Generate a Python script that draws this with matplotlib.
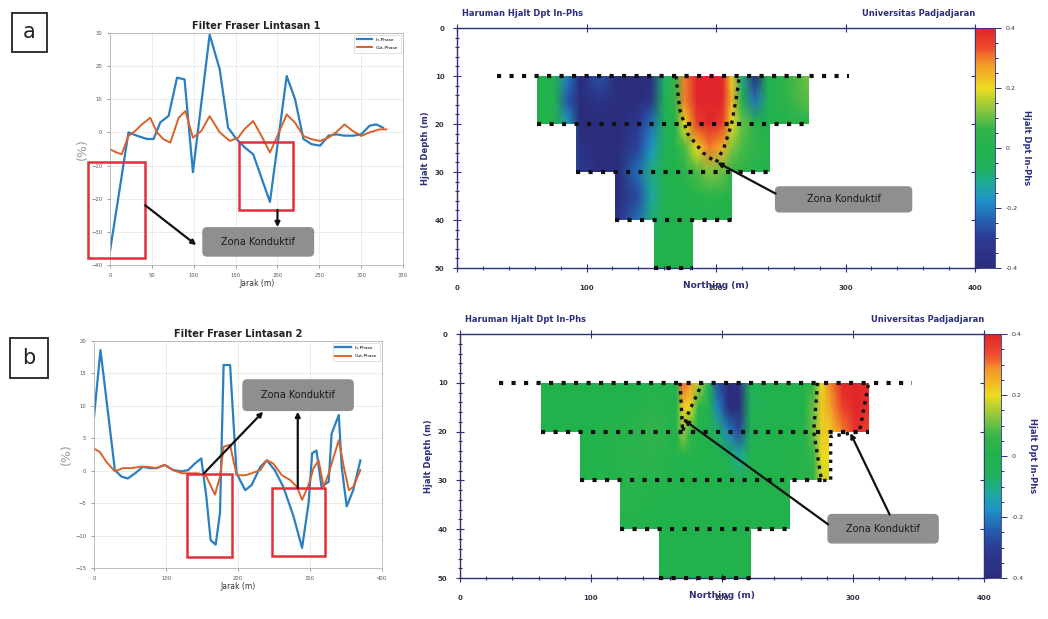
import numpy as np
import matplotlib
matplotlib.use('Agg')
import matplotlib.pyplot as plt
from matplotlib.colors import LinearSegmentedColormap
from matplotlib.patches import Rectangle, FancyBboxPatch, Polygon
from matplotlib.ticker import MultipleLocator

# --- data: Filter Fraser lintasan 1 ---
fr1_x_in = [0, 22, 32, 44, 52, 60, 70, 80, 89, 99, 119, 131, 141, 151, 161, 171, 191, 211, 221,
            231, 241, 251, 261, 270, 280, 290, 300, 310, 318, 326]
fr1_in = [-35.8, 0.0, -1.0, -2.0, -2.0, 3.0, 5.0, 16.5, 16.0, -12.0, 29.5, 19.0, 1.4, -2.0, -4.6,
          -6.6, -21.0, 17.0, 10.0, -2.0, -3.6, -4.0, -1.0, -0.6, -1.0, -1.0, -0.6, 2.0, 2.4, 1.4]
fr1_x_out = [0, 8, 14, 22, 30, 38, 48, 56, 64, 72, 82, 90, 99, 109, 119, 131, 143, 153, 161, 171,
             181, 191, 199, 211, 221, 231, 241, 251, 261, 270, 280, 290, 300, 310, 322, 330]
fr1_out = [-5.1, -6.1, -6.6, -1.1, 0.4, 2.4, 4.4, 0.0, -2.1, -3.1, 4.4, 6.4, -1.6, 0.4, 4.9, 0.0,
           -2.6, -1.6, 1.1, 3.4, -1.1, -6.1, -1.6, 5.4, 2.9, -1.1, -2.1, -2.6, -1.6, 0.0, 2.4, 0.4,
           -1.1, 0.0, 0.9, 0.9]

# --- data: Filter Fraser lintasan 2 ---
fr2_x_in = [0, 9, 29, 38, 47, 57, 68, 77, 87, 98, 110, 122, 131, 140, 149, 156, 162, 169, 175, 180,
            189, 198, 210, 219, 231, 240, 251, 263, 277, 289, 298, 303, 309, 316, 326, 330, 340, 344,
            351, 360, 370]
fr2_in = [8.3, 18.6, 0.1, -0.9, -1.2, -0.4, 0.6, 0.4, 0.4, 0.9, 0.1, -0.1, 0.1, 1.1, 1.9, -4.0,
          -10.7, -11.4, -6.5, 16.3, 16.3, -0.4, -3.0, -2.2, 0.6, 1.6, 0.1, -2.5, -7.0, -11.9, -5.0,
          2.7, 3.1, -2.5, -1.7, 5.7, 8.6, 0.6, -5.5, -3.0, 1.6]
fr2_x_out = [0, 8, 17, 29, 40, 52, 64, 75, 87, 98, 110, 122, 133, 145, 156, 168, 175, 180, 189, 198,
             210, 219, 231, 240, 249, 261, 272, 282, 289, 298, 305, 312, 319, 326, 333, 340, 347,
             354, 360, 370]
fr2_out = [3.4, 2.9, 1.4, -0.1, 0.4, 0.4, 0.6, 0.6, 0.4, 0.9, 0.1, -0.4, -0.4, -0.4, -0.9, -3.7,
           -0.9, 3.7, 4.0, -0.7, -0.7, -0.4, 0.1, 1.6, 1.1, -0.7, -1.4, -2.5, -4.5, -2.2, 0.4, 1.6,
           -2.5, -0.4, 2.2, 4.7, 0.6, -3.0, -2.5, 0.1]

# --- data: pseudosection Hjalt Dpt In-Phs ---
depths = [10, 15, 20, 25, 30, 35, 40, 45, 50]
row_top = [10, 20, 30, 40]
row_bottom = [20, 30, 40, 50]

sec1_left = [62, 92, 122, 152]
sec1_right = [272, 242, 212, 182]
sec1_dots = [31, 303]
sec1_x = [60, 75, 85, 95, 110, 125, 140, 150, 160, 168, 176, 185, 195, 205, 212, 220, 230, 240, 255, 275]
sec1_vals = [
    [0.0, -0.02, -0.2, -0.4, -0.26, -0.4, -0.4, -0.38, -0.08, 0.05, 0.3, 0.4, 0.4, 0.4, 0.22, -0.1, -0.4, 0.0, 0.05, 0.12],
    [0.0, -0.02, -0.25, -0.4, -0.34, -0.4, -0.4, -0.35, -0.05, 0.05, 0.3, 0.4, 0.4, 0.4, 0.25, 0.0, -0.22, -0.05, 0.05, 0.1],
    [0.0, 0.0, -0.15, -0.4, -0.4, -0.4, -0.32, -0.22, -0.05, 0.0, 0.2, 0.35, 0.4, 0.35, 0.2, 0.1, 0.03, 0.0, 0.0, 0.0],
    [0.0, 0.0, -0.25, -0.36, -0.4, -0.4, -0.28, -0.17, -0.05, 0.0, 0.08, 0.2, 0.3, 0.25, 0.12, 0.08, 0.05, 0.02, 0.0, 0.0],
    [0.0, 0.0, -0.25, -0.32, -0.4, -0.38, -0.22, -0.1, -0.02, 0.0, 0.03, 0.08, 0.12, 0.1, 0.05, 0.03, 0.02, 0.0, 0.0, 0.0],
    [0.0, 0.0, -0.3, -0.35, -0.4, -0.4, -0.27, -0.13, -0.03, 0.0, 0.0, 0.02, 0.03, 0.02, 0.01, 0.0, 0.0, 0.0, 0.0, 0.0],
    [0.0, 0.0, -0.3, -0.34, -0.34, -0.34, -0.22, -0.09, -0.02, 0.0, 0.0, 0.0, 0.0, 0.0, 0.0, 0.0, 0.0, 0.0, 0.0, 0.0],
    [0.0, 0.0, 0.0, 0.0, 0.0, -0.1, -0.05, -0.03, -0.01, 0.0, 0.0, 0.0, 0.0, 0.0, 0.0, 0.0, 0.0, 0.0, 0.0, 0.0],
    [0.0, 0.0, 0.0, 0.0, 0.0, 0.0, -0.02, -0.02, 0.0, 0.0, 0.0, 0.0, 0.0, 0.0, 0.0, 0.0, 0.0, 0.0, 0.0, 0.0],
]
sec1_zone = [(169, 10), (172, 17), (178, 22), (190, 26), (200, 28), (206, 25), (212, 20), (216, 14), (218, 10)]

sec2_left = [62, 92, 122, 152]
sec2_right = [312, 282, 252, 222]
sec2_dots = [30, 345]
sec2_x = [60, 100, 130, 150, 165, 170, 176, 182, 190, 197, 205, 213, 222, 240, 262, 270, 276, 283, 292, 302, 312]
sec2_vals = [
    [0, 0, 0, 0, 0, 0.32, 0.28, 0.16, -0.05, -0.28, -0.4, -0.36, -0.05, 0, 0, 0.06, 0.2, 0.3, 0.4, 0.4, 0.38],
    [0, 0, 0, 0.04, 0, 0.22, 0.2, 0.03, -0.04, -0.2, -0.4, -0.4, -0.06, 0, 0, 0.1, 0.22, 0.27, 0.35, 0.4, 0.38],
    [0, 0, 0.02, 0.05, 0, 0.14, 0.06, 0, 0, -0.08, -0.2, -0.28, -0.04, 0, 0, 0.1, 0.22, 0.22, 0.3, 0.38, 0.35],
    [0, 0, 0.03, 0.04, 0, 0, 0.02, 0, 0, 0, -0.06, -0.12, -0.02, 0, 0.02, 0.06, 0.2, 0.2, 0.05, 0.02, 0],
    [0, 0, 0.02, 0.02, 0, 0, 0, 0, 0, 0, 0, -0.03, 0, 0, 0.02, 0.05, 0.18, 0.18, 0.02, 0, 0],
    [0, 0, 0.03, 0, 0, 0, 0, 0, 0, 0, 0, 0, 0, 0, 0, 0, 0, 0, 0, 0, 0],
    [0, 0, 0, 0, 0, 0, 0, 0, 0, 0, 0, 0, 0, 0, 0, 0, 0, 0, 0, 0, 0],
    [0, 0, 0, 0, 0, 0, 0, 0, 0, 0, 0, 0, 0, 0, 0, 0, 0, 0, 0, 0, 0],
    [0, 0, 0, 0, 0, 0, 0, 0, 0, 0, 0, 0, 0, 0, 0, 0, 0, 0, 0, 0, 0],
]
sec2_zone_left = [(168, 10), (170, 20), (173, 17), (185, 10)]
sec2_zone_right = [(273, 10), (270, 20), (276, 30), (283, 30), (283, 21), (305, 20), (312, 10)]

NAVY = '#2c2f7c'
GRAY_BOX = '#8f8f8f'
RED = '#e0303a'

cmap = LinearSegmentedColormap.from_list('surfer', [
    (0.0, '#2b2d7c'), (0.12, '#2d3a92'), (0.2, '#2560b0'), (0.28, '#1e93c8'),
    (0.35, '#1eaa9a'), (0.42, '#20b05a'), (0.5, '#22b24c'), (0.58, '#34b44a'),
    (0.66, '#8cc63f'), (0.75, '#eadc1f'), (0.85, '#f59a2a'), (0.92, '#ee4b2b'), (1.0, '#e0262b')])

fig = plt.figure(figsize=(10.48, 6.19), dpi=100)


def zona_box(ax, x0, x1, y0, y1):
    ylo, yhi = min(y0, y1), max(y0, y1)
    xl, yl = ax.get_xlim(), ax.get_ylim()
    px_x = ax.bbox.width / abs(xl[1] - xl[0])
    px_y = ax.bbox.height / abs(yl[1] - yl[0])
    box = FancyBboxPatch((x0, ylo), x1 - x0, yhi - ylo,
                         boxstyle='round,pad=0,rounding_size=%f' % (4 / px_x),
                         mutation_aspect=px_x / px_y, fc=GRAY_BOX, ec=GRAY_BOX,
                         clip_on=False, zorder=6)
    ax.add_patch(box)
    ax.text((x0 + x1) / 2, (y0 + y1) / 2, 'Zona Konduktif', ha='center', va='center',
            fontsize=7, color='#1a1a1a', zorder=7, clip_on=False)


def arrow(ax, start, tip):
    ax.annotate('', xy=tip, xytext=start, annotation_clip=False, zorder=8,
                arrowprops=dict(arrowstyle='-|>', color='#111111', lw=1.6, mutation_scale=7,
                                shrinkA=0, shrinkB=0))


def line_panel(ax, title, xin, yin, xout, yout, xlim, ylim, xstep, ystep):
    ax.plot(xin, yin, color='#2a7fc0', lw=1.6, label='In-Phase')
    ax.plot(xout, yout, color='#d9622b', lw=1.4, label='Out-Phase')
    ax.set_xlim(*xlim)
    ax.set_ylim(*ylim)
    ax.xaxis.set_major_locator(MultipleLocator(xstep))
    ax.yaxis.set_major_locator(MultipleLocator(ystep))
    ax.grid(True, color='#e4e4e4', lw=0.5)
    for s in ax.spines.values():
        s.set_color('#b5b5b5')
        s.set_linewidth(0.6)
    ax.tick_params(labelsize=3.8, colors='#555555', length=2, width=0.4)
    ax.set_title(title, fontsize=7, fontweight='bold', color='#222222', pad=3)
    ax.set_xlabel('Jarak (m)', fontsize=5.5, color='#333333', labelpad=1)
    ax.set_ylabel('(%)', fontsize=9, color='#999999', labelpad=2)
    leg = ax.legend(loc='upper right', fontsize=3.2, handlelength=3.5, frameon=True,
                    borderpad=0.6, labelspacing=0.9, fancybox=False)
    leg.get_frame().set_edgecolor('#c8c8c8')
    leg.get_frame().set_linewidth(0.5)


def section_panel(ax, cax, xs, vals, lefts, rights, dots):
    X, Z = np.meshgrid(xs, depths)
    mesh = ax.pcolormesh(X, Z, np.array(vals), shading='gouraud', cmap=cmap, vmin=-0.4, vmax=0.4)
    verts = []
    for l, t, b in zip(lefts, row_top, row_bottom):
        verts += [(l, t), (l, b)]
    for r, t, b in zip(rights[::-1], row_top[::-1], row_bottom[::-1]):
        verts += [(r, b), (r, t)]
    clip = Polygon(verts, closed=True, transform=ax.transData, fc='none', ec='none')
    ax.add_patch(clip)
    mesh.set_clip_path(clip)
    dot_style = dict(color='#111111', lw=3, ls=(0, (1, 2)), zorder=5, clip_on=False)
    ax.plot(dots, [row_top[0], row_top[0]], **dot_style)
    for l, r, b in zip(lefts, rights, row_bottom):
        ax.plot([l, r], [b, b], **dot_style)
    ax.set_xlim(0, 400)
    ax.set_ylim(50, 0)
    ax.xaxis.set_major_locator(MultipleLocator(100))
    ax.xaxis.set_minor_locator(MultipleLocator(20))
    ax.yaxis.set_major_locator(MultipleLocator(10))
    ax.yaxis.set_minor_locator(MultipleLocator(2))
    ax.tick_params(which='both', direction='inout', top=True, right=True, colors=NAVY,
                   labelcolor='#333344', labelsize=5, width=0.8)
    ax.tick_params(which='major', length=6)
    ax.tick_params(which='minor', length=3, top=False, right=False)
    ax.tick_params(axis='x', pad=9)
    ax.tick_params(axis='y', pad=6)
    for lab in ax.get_xticklabels() + ax.get_yticklabels():
        lab.set_fontweight('bold')
    for s in ax.spines.values():
        s.set_color(NAVY)
        s.set_linewidth(1.0)
    ax.set_xlabel('Northing (m)', fontsize=6.5, fontweight='bold', color=NAVY, labelpad=-7)
    ax.set_ylabel('Hjalt Depth (m)', fontsize=6, fontweight='bold', color=NAVY, labelpad=3)
    ax.text(0.01, 1.04, 'Haruman Hjalt Dpt In-Phs', transform=ax.transAxes, fontsize=6,
            fontweight='bold', color=NAVY, ha='left', va='bottom')
    ax.text(1.0, 1.04, 'Universitas Padjadjaran', transform=ax.transAxes, fontsize=6,
            fontweight='bold', color=NAVY, ha='right', va='bottom')
    cb = fig.colorbar(mesh, cax=cax, ticks=[-0.4, -0.2, 0, 0.2, 0.4])
    cb.ax.set_yticklabels(['-0.4', '-0.2', '0', '0.2', '0.4'])
    cb.ax.yaxis.set_minor_locator(MultipleLocator(0.05))
    cb.ax.tick_params(which='both', colors=NAVY, labelcolor='#333344', labelsize=4.5, width=0.7)
    cb.ax.tick_params(which='major', length=4)
    cb.ax.tick_params(which='minor', length=2.5)
    cb.outline.set_edgecolor(NAVY)
    cb.outline.set_linewidth(0.6)
    cb.set_label('Hjalt Dpt In-Phs', rotation=-90, fontsize=6, fontweight='bold', color=NAVY,
                 labelpad=10)


def panel_label(x, y, w, h, letter):
    fig.patches.append(Rectangle((x, y), w, h, transform=fig.transFigure, fc='white',
                                 ec='#333333', lw=1.4))
    fig.text(x + w / 2, y + h / 2, letter, fontsize=15, ha='center', va='center', color='#222222')


# --- a: line chart ---
ax1 = fig.add_axes([0.105, 0.572, 0.2796, 0.3748])
line_panel(ax1, 'Filter Fraser Lintasan 1', fr1_x_in, fr1_in, fr1_x_out, fr1_out,
           (0, 350), (-40, 30), 50, 10)
for (x0, x1, y0, y1) in [(-26, 42, -37.8, -9.0), (154, 218, -23.4, -2.9)]:
    ax1.add_patch(Rectangle((x0, y0), x1 - x0, y1 - y0, fill=False, ec=RED, lw=1.8,
                            clip_on=False, zorder=5))
zona_box(ax1, 111, 243, -37.3, -28.8)
arrow(ax1, (42, -22), (103, -34))
arrow(ax1, (200, -23.4), (200, -28.6))

# --- a: section ---
ax2 = fig.add_axes([0.4361, 0.567, 0.4943, 0.3877])
cax2 = fig.add_axes([0.9303, 0.567, 0.019, 0.3877])
section_panel(ax2, cax2, sec1_x, sec1_vals, sec1_left, sec1_right, sec1_dots)
zx, zz = zip(*sec1_zone)
ax2.plot(zx, zz, color='#111111', lw=2.4, ls=(0, (1, 1.5)), zorder=5)
zona_box(ax2, 246, 351, 38.3, 33.1)
arrow(ax2, (246, 34.5), (201, 28))

# --- b: line chart ---
ax3 = fig.add_axes([0.0897, 0.0824, 0.2748, 0.3667])
line_panel(ax3, 'Filter Fraser Lintasan 2', fr2_x_in, fr2_in, fr2_x_out, fr2_out,
           (0, 400), (-15, 20), 100, 5)
for (x0, x1, y0, y1) in [(128.5, 191, -13.3, -0.5), (247, 321, -13.2, -2.7)]:
    ax3.add_patch(Rectangle((x0, y0), x1 - x0, y1 - y0, fill=False, ec=RED, lw=1.8,
                            clip_on=False, zorder=5))
zona_box(ax3, 207, 360, 9.3, 14.0)
arrow(ax3, (152.7, -0.4), (235, 9.1))
arrow(ax3, (283, -2.7), (283, 9.1))

# --- b: section ---
ax4 = fig.add_axes([0.4389, 0.0662, 0.5, 0.3942])
cax4 = fig.add_axes([0.939, 0.0662, 0.016, 0.3942])
section_panel(ax4, cax4, sec2_x, sec2_vals, sec2_left, sec2_right, sec2_dots)
for zone in (sec2_zone_left, sec2_zone_right):
    zx, zz = zip(*zone)
    ax4.plot(zx, zz, color='#111111', lw=2.4, ls=(0, (1, 1.5)), zorder=5)
zona_box(ax4, 281, 365, 42.8, 37.0)
arrow(ax4, (281, 39), (171, 17.6))
arrow(ax4, (328, 37), (298, 20.3))

panel_label(0.0115, 0.916, 0.0335, 0.063, 'a')
panel_label(0.0095, 0.389, 0.0365, 0.065, 'b')

fig.savefig('out.png', dpi=100)
